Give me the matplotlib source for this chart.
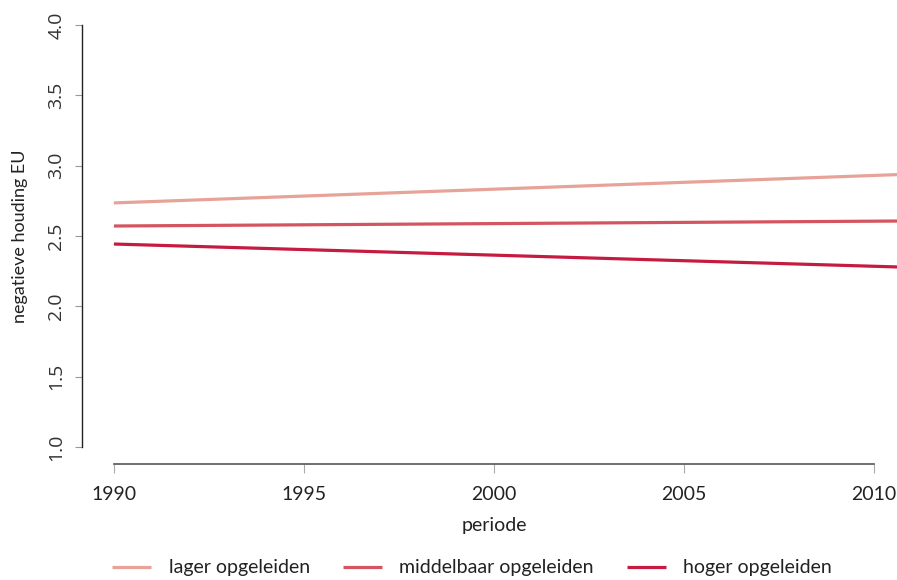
import matplotlib

matplotlib.use("Agg")
import matplotlib.pyplot as plt
import matplotlib.transforms as mtransforms

# fitted trend lines, start and end of the period
years = [1990, 2011]
lager = [2.735, 2.940]
middelbaar = [2.571, 2.607]
hoger = [2.443, 2.277]
series_names = ["lager opgeleiden", "middelbaar opgeleiden", "hoger opgeleiden"]
series_colors = ["#E8A398", "#D4555F", "#C61B40"]
x_ticks = [1990, 1995, 2000, 2005, 2010]
y_ticks = [1.0, 1.5, 2.0, 2.5, 3.0, 3.5, 4.0]

plt.rcParams["font.family"] = ["Lato", "DejaVu Sans"]

fig = plt.figure(figsize=(8.97, 5.80), dpi=100)
# R-style plot region that runs past the right edge of the picture
ax = fig.add_axes([82 / 897, 116 / 580, 862 / 897, 456 / 580])

for vals, name, col in zip([lager, middelbaar, hoger], series_names, series_colors):
    ax.plot(years, vals, color=col, lw=2.3, label=name, solid_capstyle="butt")

ax.set_xlim(1989.16, 2011.84)
ax.set_ylim(0.88, 4.12)

for side in ("top", "right"):
    ax.spines[side].set_visible(False)
ax.spines["left"].set_bounds(1.0, 4.0)
ax.spines["left"].set_color("#222222")
ax.spines["bottom"].set_bounds(1990, 2010)
ax.spines["bottom"].set_color("#555555")
ax.spines["left"].set_linewidth(1.0)
ax.spines["bottom"].set_linewidth(1.2)

ax.set_xticks(x_ticks)
ax.set_xticklabels([str(t) for t in x_ticks])
ax.set_yticks(y_ticks)
ax.set_yticklabels([f"{t:.1f}" for t in y_ticks], rotation=90, va="center",
                   family=["Open Sans", "DejaVu Sans"])
ax.tick_params(axis="y", length=5, color="#999999", labelsize=14, pad=7,
               labelcolor="#333333")
ax.tick_params(axis="x", length=6.5, color="#aaaaaa", labelsize=14, pad=9,
               labelcolor="#222222")

ax.set_ylabel("negatieve houding EU", fontsize=13, labelpad=14, color="#222222")
trans = mtransforms.blended_transform_factory(ax.transData, fig.transFigure)
ax.text(2000, 1 - 525 / 580, "periode", transform=trans, ha="center",
        va="center", fontsize=14, color="#222222")

fig.legend(loc="center", bbox_to_anchor=(472 / 897, 1 - 568 / 580), ncol=3,
           frameon=False, fontsize=14, handlelength=2.0, handletextpad=0.9,
           columnspacing=1.7, labelcolor="#222222")

fig.savefig("out.png", dpi=100)
